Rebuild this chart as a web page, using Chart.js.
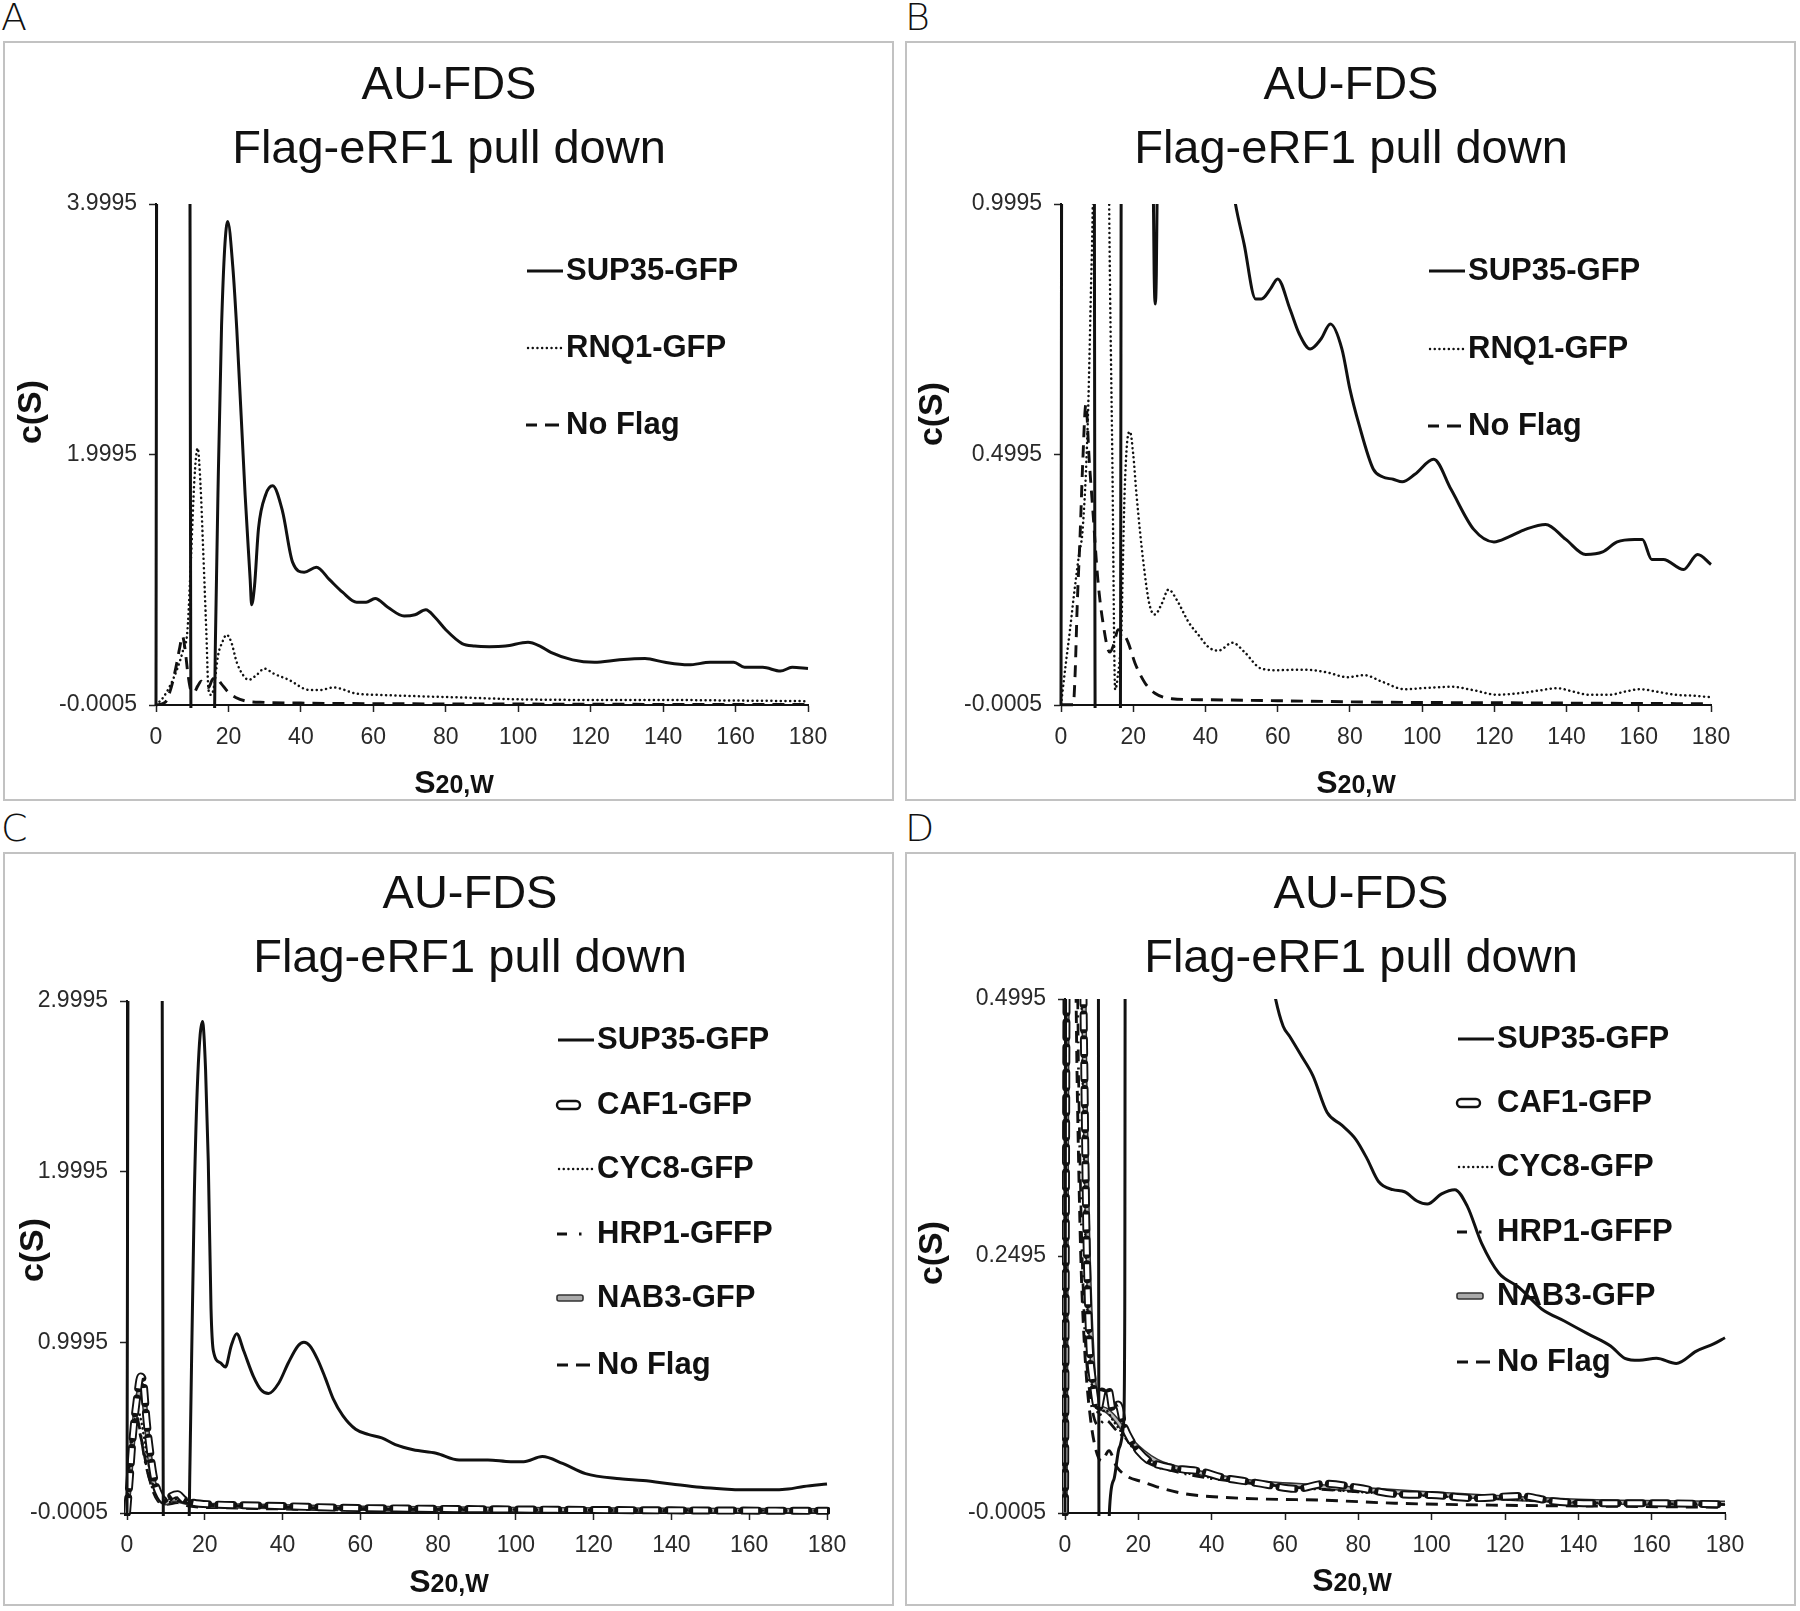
<!DOCTYPE html>
<html>
<head>
<meta charset="utf-8">
<script src="https://cdn.jsdelivr.net/npm/chart.js@4.4.1/dist/chart.umd.min.js"></script>
<style>
  body { margin: 0; background: #fff; width: 1800px; height: 1611px; position: relative; overflow: hidden; }
  .panel { position: absolute; border: 2px solid #c2c2c2; box-sizing: border-box; }
  .panel canvas { position: absolute; left: 0; top: 0; }
  .tag { position: absolute; font: 200 38px 'DejaVu Sans', sans-serif; line-height: 38px; color: #111; }
</style>
</head>
<body>
<div class="tag" style="left:1px;top:-2px">A</div>
<div class="tag" style="left:905px;top:-2px">B</div>
<div class="tag" style="left:1px;top:809px">C</div>
<div class="tag" style="left:905px;top:809px">D</div>

<div class="panel" style="left:3px;top:41px;width:891px;height:760px"><canvas id="chartA" width="887" height="756"></canvas></div>
<div class="panel" style="left:905px;top:41px;width:891px;height:760px"><canvas id="chartB" width="887" height="756"></canvas></div>
<div class="panel" style="left:3px;top:852px;width:891px;height:754px"><canvas id="chartC" width="887" height="750"></canvas></div>
<div class="panel" style="left:905px;top:852px;width:891px;height:754px"><canvas id="chartD" width="887" height="750"></canvas></div>

<script>
// Titel und Achsen
const titleLines = ['AU-FDS', 'Flag-eRF1 pull down'];
const xTicks = [0, 20, 40, 60, 80, 100, 120, 140, 160, 180];
const aYTicks = [-0.0005, 1.9995, 3.9995];
const bYTicks = [-0.0005, 0.4995, 0.9995];
const cYTicks = [-0.0005, 0.9995, 1.9995, 2.9995];
const dYTicks = [-0.0005, 0.2495, 0.4995];
const aYLabels = ['-0.0005', '1.9995', '3.9995'];
const bYLabels = ['-0.0005', '0.4995', '0.9995'];
const cYLabels = ['-0.0005', '0.9995', '1.9995', '2.9995'];
const dYLabels = ['-0.0005', '0.2495', '0.4995'];
const legendAB = ['SUP35-GFP', 'RNQ1-GFP', 'No Flag'];
const legendCD = ['SUP35-GFP', 'CAF1-GFP', 'CYC8-GFP', 'HRP1-GFFP', 'NAB3-GFP', 'No Flag'];

// Panel A
const aSupX = [0, 0.3, 9.2, 9.7, 16.0, 16.4, 17.1, 18.1, 19.8, 21.2, 22.3, 24.6, 26.0, 26.4, 27.2, 28.3, 30.3, 32.2, 34.9, 37.7, 40.9, 44.3, 47.9, 51.5, 55.4, 58.0, 60.5, 64.0, 68.5, 71.5, 74.5, 77.0, 80.0, 84.5, 88.0, 92.0, 96.5, 102.7, 106.0, 109.0, 115.0, 121.0, 128.0, 135.0, 140.5, 147.0, 153.0, 159.5, 162.5, 167.5, 172.4, 175.6, 180];
const aSupY = [0, 6, 6, -0.3, -0.3, 0.5, 1.68, 3.03, 3.86, 3.5, 3.0, 1.68, 1.0, 0.8, 0.95, 1.41, 1.68, 1.75, 1.55, 1.14, 1.06, 1.1, 1.0, 0.9, 0.82, 0.82, 0.85, 0.78, 0.71, 0.72, 0.76, 0.7, 0.6, 0.49, 0.47, 0.465, 0.47, 0.5, 0.47, 0.42, 0.36, 0.34, 0.36, 0.37, 0.34, 0.32, 0.34, 0.34, 0.3, 0.3, 0.27, 0.3, 0.29];
const aRnqX = [0, 2, 4, 6, 7.5, 8.7, 9.7, 10.6, 11.5, 12.3, 12.9, 13.9, 14.5, 15.3, 16.2, 17.1, 18.3, 19.5, 20.8, 22.3, 24.0, 25.6, 27.8, 29.9, 32.5, 36.7, 42.3, 45.5, 48.9, 55.4, 62, 72, 84, 100, 120, 140, 160, 180];
const aRnqY = [0, 0.06, 0.16, 0.3, 0.44, 0.6, 1.2, 1.8, 2.05, 1.75, 1.33, 0.58, 0.12, 0.08, 0.18, 0.39, 0.5, 0.56, 0.5, 0.34, 0.24, 0.2, 0.24, 0.29, 0.25, 0.2, 0.12, 0.12, 0.14, 0.09, 0.08, 0.07, 0.06, 0.045, 0.04, 0.04, 0.035, 0.03];
const aNoX = [0, 2.5, 4, 5.5, 6.5, 7.3, 8, 8.8, 9.6, 10.5, 11.5, 12.5, 13.5, 14.5, 15.5, 16.5, 18, 20, 22, 25, 30, 40, 60, 90, 130, 180];
const aNoY = [0, 0.02, 0.12, 0.3, 0.45, 0.55, 0.45, 0.25, 0.12, 0.1, 0.15, 0.19, 0.16, 0.14, 0.2, 0.22, 0.17, 0.1, 0.06, 0.03, 0.02, 0.015, 0.01, 0.008, 0.005, 0.003];

// Panel B
const bSupX = [0, 0.3, 9.1, 9.5, 16.4, 16.8, 25.0, 25.4, 25.8, 26.1, 26.4, 26.8, 27.2, 40, 48.3, 50.7, 53.9, 55.5, 58, 60, 63.4, 66, 69, 72, 74.6, 77.8, 80, 82.5, 86.5, 89, 92, 94.5, 98, 103.2, 108, 114.3, 119.9, 124, 128.6, 134.2, 139.8, 145.3, 150, 154, 158.8, 161, 163.6, 166.8, 172.4, 176.3, 180];
const bSupY = [0, 1.5, 1.5, -0.1, -0.1, 1.5, 1.5, 1.15, 0.86, 0.8, 0.86, 1.15, 1.5, 1.4, 1.0, 0.92, 0.81, 0.81, 0.83, 0.85, 0.79, 0.74, 0.71, 0.73, 0.76, 0.71, 0.63, 0.56, 0.47, 0.455, 0.45, 0.445, 0.46, 0.49, 0.43, 0.35, 0.325, 0.335, 0.35, 0.36, 0.33, 0.3, 0.305, 0.325, 0.33, 0.33, 0.29, 0.29, 0.27, 0.3, 0.28];
const bRnqX = [0, 1.3, 2.5, 3.6, 5, 6, 7.4, 8.3, 8.8, 9.2, 13.0, 13.4, 14.2, 15.0, 15.6, 16.7, 17.6, 18.4, 19.1, 20.0, 20.9, 22.8, 24.5, 26.0, 27.8, 29.8, 32, 35.4, 38, 41, 43.6, 47.5, 50.7, 55.5, 60.3, 65, 69.8, 74, 79.3, 84, 88.9, 95.2, 102, 108, 114.3, 120.7, 127, 132, 137.4, 142, 146, 152, 156, 160.4, 165, 170, 175, 180];
const bRnqY = [0, 0.08, 0.15, 0.22, 0.3, 0.35, 0.56, 0.83, 1.0, 1.3, 1.3, 0.95, 0.5, 0.03, 0.05, 0.15, 0.42, 0.53, 0.545, 0.5, 0.42, 0.285, 0.2, 0.18, 0.2, 0.23, 0.21, 0.164, 0.14, 0.114, 0.108, 0.124, 0.106, 0.072, 0.069, 0.07, 0.069, 0.064, 0.055, 0.059, 0.046, 0.031, 0.034, 0.036, 0.029, 0.02, 0.023, 0.028, 0.033, 0.026, 0.02, 0.02, 0.026, 0.031, 0.026, 0.02, 0.018, 0.015];
const bNoX = [0, 3.4, 3.9, 4.5, 5.3, 6.0, 6.9, 7.8, 8.8, 10.2, 11.6, 13.5, 14.6, 15.8, 17.0, 18.6, 20.5, 23.3, 26, 30.7, 40, 60, 90, 120, 150, 180];
const bNoY = [0, 0, 0.06, 0.2, 0.34, 0.48, 0.6, 0.49, 0.39, 0.25, 0.165, 0.105, 0.12, 0.15, 0.145, 0.124, 0.083, 0.043, 0.023, 0.012, 0.01, 0.008, 0.005, 0.004, 0.003, 0.002];

// Panel C
const cSupX = [0, 0.4, 8.9, 9.4, 15.8, 16.2, 17.3, 18.2, 19.4, 20.2, 20.9, 21.6, 22.2, 24.0, 25.3, 26.8, 28.2, 30.0, 32.5, 34.5, 36.4, 39.0, 41.5, 44.0, 45.5, 47.0, 49.0, 51.0, 53.0, 55.5, 58.8, 62, 65.5, 69, 73.6, 79.5, 85.4, 92.8, 98.7, 102, 106.8, 112, 117.9, 126.8, 132.7, 140, 147.5, 153.4, 157.8, 165, 170, 174, 180];
const cSupY = [0, 4, 4, -0.2, -0.2, 0.3, 1.85, 2.56, 2.88, 2.6, 2.06, 1.2, 0.95, 0.88, 0.855, 0.98, 1.05, 0.95, 0.8, 0.72, 0.70, 0.76, 0.88, 0.98, 1.0, 0.98, 0.9, 0.79, 0.67, 0.57, 0.49, 0.46, 0.44, 0.4, 0.37, 0.35, 0.31, 0.31, 0.3, 0.3, 0.33, 0.29, 0.23, 0.2, 0.19, 0.17, 0.15, 0.14, 0.135, 0.135, 0.14, 0.155, 0.17];
const cCafX = [0, 0.7, 1.5, 2.5, 3.5, 4.3, 5, 6, 7, 8.5, 10, 11.5, 13, 14.5, 17, 22, 30, 40, 55, 75, 100, 140, 180];
const cCafY = [0, 0.2, 0.45, 0.66, 0.8, 0.75, 0.55, 0.35, 0.2, 0.1, 0.07, 0.1, 0.11, 0.08, 0.06, 0.05, 0.045, 0.04, 0.03, 0.025, 0.02, 0.015, 0.012];
const cCycX = [0, 0.8, 1.8, 2.8, 3.8, 5, 6.5, 8, 10, 13, 16, 25, 50, 100, 180];
const cCycY = [0, 0.3, 0.52, 0.6, 0.52, 0.35, 0.18, 0.1, 0.07, 0.08, 0.06, 0.045, 0.03, 0.02, 0.012];
const cHrpX = [0, 0.5, 1.3, 2.2, 3.2, 4.5, 6, 8, 10, 13, 17, 30, 60, 100, 180];
const cHrpY = [0, 0.25, 0.5, 0.58, 0.5, 0.32, 0.18, 0.09, 0.06, 0.07, 0.05, 0.04, 0.025, 0.018, 0.01];
const cNabX = [0, 1, 2, 3, 3.8, 4.6, 5.5, 6.5, 8, 10, 12, 14, 18, 30, 60, 100, 180];
const cNabY = [0, 0.3, 0.55, 0.7, 0.75, 0.62, 0.4, 0.22, 0.1, 0.06, 0.08, 0.07, 0.05, 0.04, 0.028, 0.02, 0.012];
const cNoX = [0, 0.6, 1.5, 2.5, 3.5, 5, 6.5, 8, 10, 13, 16, 25, 50, 100, 180];
const cNoY = [0, 0.2, 0.45, 0.52, 0.45, 0.28, 0.14, 0.07, 0.05, 0.06, 0.04, 0.03, 0.02, 0.012, 0.008];

// Panel D
const dSupX = [0, 0.3, 9.0, 9.3, 11.9, 12.1, 13.4, 14.8, 16.0, 16.3, 16.5, 45, 57.4, 59.5, 61.3, 64.5, 67.6, 71.5, 75.4, 79.3, 82.4, 85.5, 89.4, 92.6, 96, 98.8, 102.7, 106.3, 109.7, 113.6, 118.3, 123.8, 130, 136.3, 142.5, 148.8, 152.7, 156.6, 161.3, 166.7, 172.2, 176.9, 180];
const dSupY = [0, 0.8, 0.8, -0.05, -0.05, 0, 0.033, 0.063, 0.088, 0.2, 0.8, 0.75, 0.5, 0.473, 0.463, 0.444, 0.425, 0.389, 0.377, 0.363, 0.344, 0.322, 0.314, 0.312, 0.303, 0.3, 0.31, 0.314, 0.298, 0.262, 0.233, 0.219, 0.198, 0.186, 0.174, 0.162, 0.15, 0.148, 0.15, 0.145, 0.157, 0.164, 0.17];
const dCafX = [0, 0.6, 4.6, 5.2, 5.8, 6.6, 7.5, 9, 10.5, 12, 13, 14.5, 16, 18, 20, 23, 27, 32, 37, 43, 50, 55, 63, 71, 80, 90, 100, 112, 124, 133, 143, 160, 180];
const dCafY = [0, 0.6, 0.6, 0.45, 0.28, 0.17, 0.13, 0.1, 0.12, 0.118, 0.1, 0.105, 0.085, 0.07, 0.06, 0.05, 0.045, 0.042, 0.04, 0.034, 0.03, 0.027, 0.023, 0.028, 0.024, 0.018, 0.017, 0.014, 0.016, 0.011, 0.009, 0.009, 0.008];
const dCycX = [0, 0.5, 4, 4.8, 5.6, 6.5, 8, 9.5, 11, 13, 15, 18, 22, 28, 35, 45, 60, 80, 100, 120, 140, 180];
const dCycY = [0, 0.6, 0.6, 0.42, 0.26, 0.16, 0.11, 0.095, 0.1, 0.09, 0.08, 0.065, 0.052, 0.043, 0.037, 0.031, 0.026, 0.02, 0.016, 0.013, 0.01, 0.008];
const dHrpX = [0, 0.4, 3, 3.8, 4.6, 5.5, 7, 9, 11, 14, 17, 22, 30, 40, 55, 80, 110, 140, 180];
const dHrpY = [0, 0.6, 0.6, 0.4, 0.26, 0.17, 0.11, 0.085, 0.09, 0.08, 0.07, 0.05, 0.04, 0.033, 0.027, 0.02, 0.015, 0.01, 0.008];
const dNabX = [0, 0.8, 4.8, 5.4, 6.1, 7, 8.5, 11, 14, 18, 25, 35, 50, 70, 100, 140, 180];
const dNabY = [0, 0.6, 0.6, 0.42, 0.28, 0.18, 0.11, 0.1, 0.09, 0.07, 0.05, 0.04, 0.03, 0.025, 0.018, 0.011, 0.009];
const dNoX = [0, 0.3, 2.5, 3.4, 4.3, 5.5, 7, 8.5, 10, 12, 14, 17, 21, 25, 33, 42, 55, 70, 90, 120, 150, 180];
const dNoY = [0, 0.6, 0.6, 0.4, 0.25, 0.15, 0.09, 0.06, 0.05, 0.06, 0.045, 0.035, 0.03, 0.025, 0.018, 0.015, 0.013, 0.012, 0.009, 0.007, 0.006, 0.005];

const FONT = '"Liberation Sans", Arial, sans-serif';
const INK = '#111';
Chart.defaults.font.family = FONT;

function points(xs, ys) {
    return xs.map((x, i) => ({ x: x, y: ys[i] }));
}

// Liniendatensaetze je Stil (hohl und doppelt brauchen zwei Striche)
function lineSets(xs, ys, style, order) {
    const base = { data: points(xs, ys), borderColor: INK, borderWidth: 3, pointRadius: 0,
        cubicInterpolationMode: 'monotone', fill: false, order: order,
        clip: { left: 3, top: 0, right: 3, bottom: 3 } };
    if (style === 'dot') return [Object.assign(base, { borderWidth: 2.5, borderDash: [0.1, 4.6], borderCapStyle: 'round' })];
    if (style === 'dash') return [Object.assign(base, { borderWidth: 2.9, borderDash: [12, 8] })];
    if (style === 'dashdot') return [Object.assign(base, { borderWidth: 2.7, borderDash: [12, 6, 2, 6] })];
    if (style === 'hollow') {
        return [
            Object.assign({}, base, { borderWidth: 8, borderDash: [15, 10], borderCapStyle: 'round', order: order + 0.5 }),
            Object.assign({}, base, { data: points(xs, ys), borderWidth: 4.2, borderDash: [15, 10], borderColor: '#fff' })
        ];
    }
    if (style === 'double') {
        return [
            Object.assign({}, base, { borderWidth: 5.5, borderColor: '#333', order: order + 0.5 }),
            Object.assign({}, base, { data: points(xs, ys), borderWidth: 2.5, borderColor: '#b8b8b8' })
        ];
    }
    return [base];
}

function drawSample(ctx, style, textX, y) {
    ctx.save();
    ctx.strokeStyle = INK;
    ctx.beginPath();
    if (style === 'solid') {
        ctx.lineWidth = 2.8;
        ctx.moveTo(textX - 39, y); ctx.lineTo(textX - 3, y); ctx.stroke();
    } else if (style === 'dot') {
        ctx.lineWidth = 2.4; ctx.lineCap = 'round'; ctx.setLineDash([0.1, 4.6]);
        ctx.moveTo(textX - 38, y); ctx.lineTo(textX - 3, y); ctx.stroke();
    } else if (style === 'dash') {
        ctx.lineWidth = 3;
        ctx.moveTo(textX - 40, y); ctx.lineTo(textX - 29, y);
        ctx.moveTo(textX - 21, y); ctx.lineTo(textX - 7, y); ctx.stroke();
    } else if (style === 'dashdot') {
        ctx.lineWidth = 3;
        ctx.moveTo(textX - 40, y); ctx.lineTo(textX - 30, y); ctx.stroke();
        ctx.fillStyle = INK; ctx.fillRect(textX - 18, y - 1.5, 2.5, 3);
    } else if (style === 'hollow') {
        ctx.lineWidth = 2.4;
        ctx.roundRect(textX - 40, y - 4, 23, 8, 4); ctx.stroke();
    } else if (style === 'double') {
        ctx.lineWidth = 1.6; ctx.fillStyle = '#aaa'; ctx.strokeStyle = '#333';
        ctx.roundRect(textX - 40, y - 3, 26, 6, 2); ctx.fill(); ctx.stroke();
    }
    ctx.restore();
}

// Titel, Achsentitel und Legende im Diagramm
function decor(p) {
    return {
        id: 'decor',
        beforeDatasetsDraw(chart) {
            const ctx = chart.ctx;
            ctx.save();
            ctx.font = 'bold 31px ' + FONT;
            ctx.fillStyle = INK;
            ctx.textBaseline = 'middle';
            ctx.textAlign = 'left';
            p.legend.forEach((label, i) => {
                drawSample(ctx, p.styles[i], p.textX, p.legendY[i]);
                ctx.fillText(label, p.textX, p.legendY[i]);
            });
            ctx.restore();
        },
        afterDraw(chart) {
            const ctx = chart.ctx;
            ctx.save();
            ctx.fillStyle = INK;
            ctx.textAlign = 'center';
            ctx.textBaseline = 'middle';
            ctx.font = '47px ' + FONT;
            ctx.fillText(titleLines[0], p.titleX, p.titleY[0]);
            ctx.fillText(titleLines[1], p.titleX, p.titleY[1]);

            ctx.save();
            ctx.translate(p.yTitle[0], p.yTitle[1]);
            ctx.rotate(-Math.PI / 2);
            ctx.font = 'bold 34px ' + FONT;
            ctx.fillText('c(S)', 0, 0);
            ctx.restore();

            ctx.textAlign = 'left';
            ctx.textBaseline = 'alphabetic';
            const big = 'bold 32px ' + FONT, small = 'bold 25px ' + FONT;
            ctx.font = big;
            const w1 = ctx.measureText('S').width;
            ctx.font = small;
            const w2 = ctx.measureText('20,W').width;
            const x0 = p.xTitle[0] - (w1 + w2) / 2;
            ctx.font = big;
            ctx.fillText('S', x0, p.xTitle[1]);
            ctx.font = small;
            ctx.fillText('20,W', x0 + w1, p.xTitle[1]);
            ctx.restore();
        }
    };
}

function makePanel(id, p, datasets) {
    return new Chart(document.getElementById(id), {
        type: 'line',
        data: { datasets: datasets },
        options: {
            responsive: false,
            animation: false,
            devicePixelRatio: 1,
            layout: { padding: { left: 0, right: p.padRight, top: p.padTop, bottom: 0 } },
            plugins: { legend: { display: false }, title: { display: false }, tooltip: { enabled: false } },
            scales: {
                x: {
                    type: 'linear', min: 0, max: 180,
                    afterFit: (s) => { s.height = p.xH; },
                    afterBuildTicks: (s) => { s.ticks = xTicks.map(v => ({ value: v })); },
                    grid: { display: true, drawOnChartArea: false, drawTicks: true, tickLength: 7, tickWidth: 1.5, tickColor: '#222' },
                    border: { display: true, color: INK, width: 2 },
                    ticks: { color: '#2a2a2a', font: { size: 23 }, padding: 12, maxRotation: 0, autoSkip: false,
                        callback: (v) => String(v) }
                },
                y: {
                    type: 'linear', min: p.yTicks[0], max: p.yTicks[p.yTicks.length - 1],
                    afterFit: (s) => { s.width = p.yW; },
                    afterBuildTicks: (s) => { s.ticks = p.yTicks.map(v => ({ value: v })); },
                    grid: { display: true, drawOnChartArea: false, drawTicks: true, tickLength: 7, tickWidth: 1.5, tickColor: '#222' },
                    border: { display: true, color: INK, width: 2 },
                    ticks: { color: '#2a2a2a', font: { size: 23 }, padding: 12, autoSkip: false,
                        callback: (v, i) => p.yLabels[i] }
                }
            }
        },
        plugins: [decor(p)]
    });
}

makePanel('chartA', {
    padRight: 84, padTop: 161, yW: 151, xH: 94, yTicks: aYTicks, yLabels: aYLabels,
    titleX: 444, titleY: [43, 107], yTitle: [27, 369], xTitle: [449, 750],
    textX: 561, legendY: [228, 305, 382], legend: legendAB, styles: ['solid', 'dot', 'dash']
}, [].concat(
    lineSets(aSupX, aSupY, 'solid', 0),
    lineSets(aRnqX, aRnqY, 'dot', 2),
    lineSets(aNoX, aNoY, 'dash', 3)
));

makePanel('chartB', {
    padRight: 83, padTop: 161, yW: 154, xH: 94, yTicks: bYTicks, yLabels: bYLabels,
    titleX: 444, titleY: [43, 107], yTitle: [26, 371], xTitle: [449, 750],
    textX: 561, legendY: [228, 306, 383], legend: legendAB, styles: ['solid', 'dot', 'dash']
}, [].concat(
    lineSets(bSupX, bSupY, 'solid', 0),
    lineSets(bRnqX, bRnqY, 'dot', 2),
    lineSets(bNoX, bNoY, 'dash', 3)
));

const stylesCD = ['solid', 'hollow', 'dot', 'dashdot', 'double', 'dash'];

makePanel('chartC', {
    padRight: 65, padTop: 147, yW: 122, xH: 91, yTicks: cYTicks, yLabels: cYLabels,
    titleX: 465, titleY: [41, 105], yTitle: [29, 396], xTitle: [444, 738],
    textX: 592, legendY: [186, 251, 315, 380, 444, 511], legend: legendCD, styles: stylesCD
}, [].concat(
    lineSets(cSupX, cSupY, 'solid', 0),
    lineSets(cCafX, cCafY, 'hollow', 1),
    lineSets(cCycX, cCycY, 'dot', 3),
    lineSets(cHrpX, cHrpY, 'dashdot', 4),
    lineSets(cNabX, cNabY, 'double', 5),
    lineSets(cNoX, cNoY, 'dash', 7)
));

makePanel('chartD', {
    padRight: 69, padTop: 145, yW: 158, xH: 91, yTicks: dYTicks, yLabels: dYLabels,
    titleX: 454, titleY: [41, 105], yTitle: [26, 399], xTitle: [445, 737],
    textX: 590, legendY: [185, 249, 313, 378, 442, 508], legend: legendCD, styles: stylesCD
}, [].concat(
    lineSets(dSupX, dSupY, 'solid', 0),
    lineSets(dCafX, dCafY, 'hollow', 1),
    lineSets(dCycX, dCycY, 'dot', 3),
    lineSets(dHrpX, dHrpY, 'dashdot', 4),
    lineSets(dNabX, dNabY, 'double', 5),
    lineSets(dNoX, dNoY, 'dash', 7)
));
</script>
</body>
</html>
